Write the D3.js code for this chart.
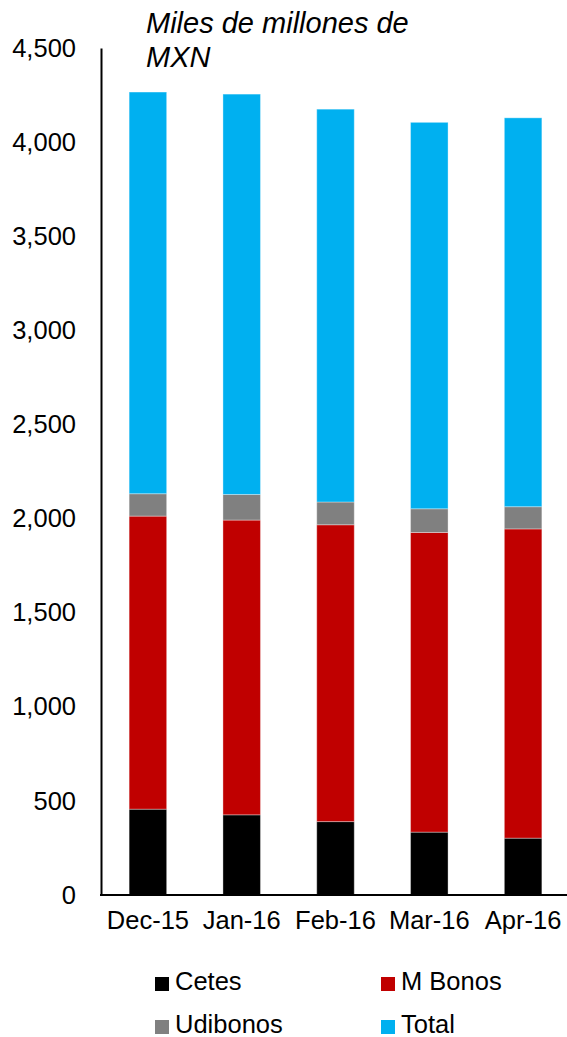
<!DOCTYPE html>
<html>
<head>
<meta charset="utf-8">
<script src="https://cdn.jsdelivr.net/npm/d3@7"></script>
<style>
  html, body { margin: 0; padding: 0; background: #fff; }
  svg { display: block; font-family: "Liberation Sans", Arial, sans-serif; }
</style>
</head>
<body>
<svg id="chart" width="567" height="1037"></svg>
<script>
// Months on the category axis
const months = ["Dec-15", "Jan-16", "Feb-16", "Mar-16", "Apr-16"];

// Stacked segment values (miles de millones de MXN)
const cetes    = [456, 426, 390, 334, 302];
const mBonos   = [1557, 1566, 1577, 1592, 1643];
const udibonos = [119, 136, 121, 126, 118];
const total    = [2134, 2127, 2087, 2053, 2066];

// Y axis ticks
const yTicks = [0, 500, 1000, 1500, 2000, 2500, 3000, 3500, 4000, 4500];

const seriesNames = ["Cetes", "M Bonos", "Udibonos", "Total"];
const seriesColors = ["#000000", "#C00000", "#808080", "#00B0F0"];

const rows = months.map((m, i) => ({
  month: m,
  "Cetes": cetes[i],
  "M Bonos": mBonos[i],
  "Udibonos": udibonos[i],
  "Total": total[i]
}));

const svg = d3.select("#chart");

const x = d3.scaleBand()
  .domain(months)
  .range([101, 570])
  .paddingInner(0.6)
  .paddingOuter(0.3);

const y = d3.scaleLinear()
  .domain([0, 4500])
  .range([895, 48]);

const color = d3.scaleOrdinal().domain(seriesNames).range(seriesColors);

const stacked = d3.stack().keys(seriesNames)(rows);

// Bars
svg.append("g")
  .selectAll("g")
  .data(stacked)
  .join("g")
    .attr("fill", d => color(d.key))
  .selectAll("rect")
  .data(d => d)
  .join("rect")
    .attr("x", d => x(d.data.month))
    .attr("width", x.bandwidth())
    .attr("y", d => y(d[1]))
    .attr("height", d => y(d[0]) - y(d[1]))
    .attr("stroke", "#ffffff")
    .attr("stroke-opacity", 0.35)
    .attr("stroke-width", 1);

// Y axis (line and labels, no tick marks)
const yAxis = d3.axisLeft(y)
  .tickValues(yTicks)
  .tickFormat(d3.format(","))
  .tickSize(0)
  .tickPadding(25);

const gy = svg.append("g")
  .attr("transform", "translate(101,0)")
  .call(yAxis);
gy.select(".domain").attr("stroke", "#000").attr("stroke-width", 2);
gy.selectAll("text")
  .attr("font-size", 25.5)
  .attr("font-family", "Liberation Sans, Arial, sans-serif")
  .attr("fill", "#000");

// X axis
const xAxis = d3.axisBottom(x).tickSize(0).tickPadding(16);
const gx = svg.append("g")
  .attr("transform", "translate(0,895)")
  .call(xAxis);
gx.select(".domain")
  .attr("stroke", "#000")
  .attr("stroke-width", 2)
  .attr("d", "M100,0H567");
gx.selectAll("text")
  .attr("font-size", 25.5)
  .attr("font-family", "Liberation Sans, Arial, sans-serif")
  .attr("fill", "#000");

// Unit title
const title = svg.append("text")
  .attr("x", 146)
  .attr("font-size", 29)
  .attr("font-style", "italic")
  .attr("fill", "#000");
title.append("tspan").attr("x", 146).attr("y", 33).text("Miles de millones de");
title.append("tspan").attr("x", 146).attr("y", 67).text("MXN");

// Legend
const legendPos = [
  { x: 155, y: 977 },
  { x: 381, y: 977 },
  { x: 155, y: 1020 },
  { x: 381, y: 1020 }
];
const legend = svg.append("g")
  .selectAll("g")
  .data(seriesNames)
  .join("g")
    .attr("transform", (d, i) => `translate(${legendPos[i].x},${legendPos[i].y})`);
legend.append("rect")
  .attr("width", 14)
  .attr("height", 14)
  .attr("fill", d => color(d));
legend.append("text")
  .attr("x", 20)
  .attr("y", 13)
  .attr("font-size", 25.5)
  .attr("fill", "#000")
  .text(d => d);
</script>
</body>
</html>
